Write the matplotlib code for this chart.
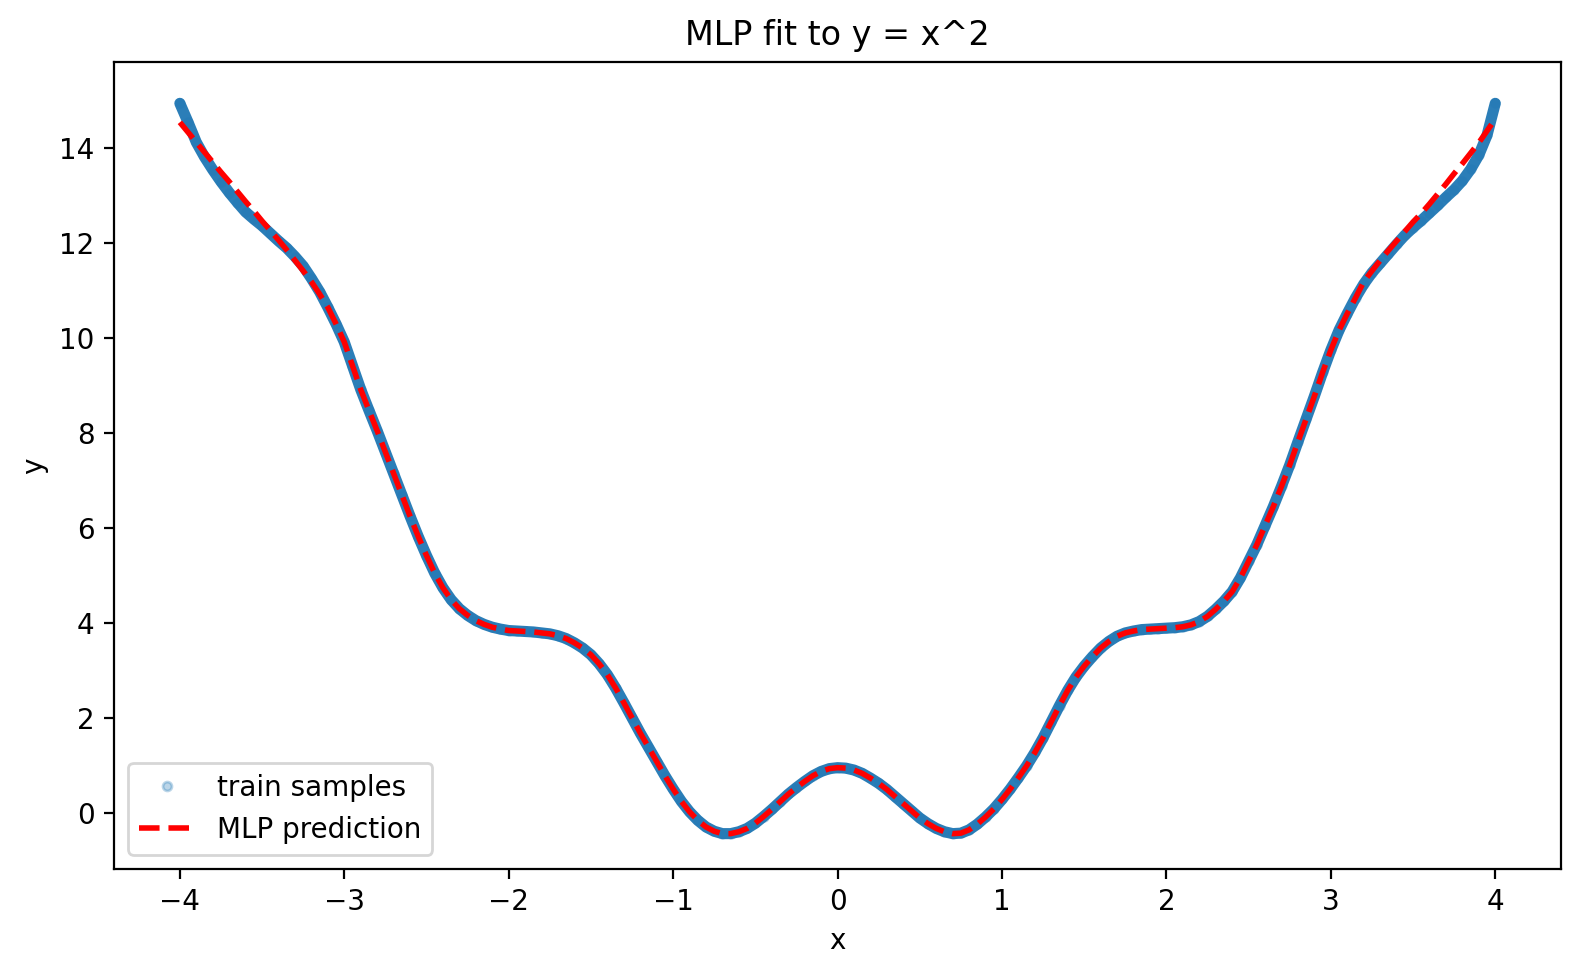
import matplotlib
matplotlib.use("Agg")
import matplotlib.pyplot as plt
from matplotlib.lines import Line2D

# x positions of the readings (step 0.05 from -4 to 4)
x_vals = [round(-4 + 0.05 * i, 2) for i in range(161)]

# train samples
y_samples = [
    14.95, 14.55, 14.13, 13.82, 13.55, 13.30, 13.07, 12.86, 12.66, 12.51,
    12.37, 12.21, 12.05, 11.90, 11.72, 11.52, 11.26, 10.98, 10.65, 10.30,
    9.92, 9.42, 8.92, 8.48, 8.05, 7.60, 7.15, 6.70, 6.25, 5.82,
    5.42, 5.05, 4.74, 4.49, 4.30, 4.16, 4.05, 3.97, 3.91, 3.87,
    3.84, 3.83, 3.82, 3.81, 3.79, 3.77, 3.73, 3.67, 3.58, 3.47,
    3.33, 3.14, 2.91, 2.63, 2.32, 2.00, 1.68, 1.38, 1.08, 0.78,
    0.50, 0.24, 0.02, -0.16, -0.30, -0.39, -0.44, -0.44, -0.40, -0.33,
    -0.22, -0.08, 0.07, 0.23, 0.39, 0.53, 0.66, 0.78, 0.87, 0.93,
    0.95, 0.94, 0.90, 0.83, 0.73, 0.62, 0.49, 0.34, 0.19, 0.04,
    -0.11, -0.23, -0.33, -0.40, -0.44, -0.43, -0.36, -0.24, -0.09, 0.08,
    0.28, 0.50, 0.74, 0.99, 1.27, 1.58, 1.92, 2.26, 2.58, 2.86,
    3.09, 3.29, 3.47, 3.61, 3.72, 3.79, 3.83, 3.86, 3.87, 3.88,
    3.89, 3.90, 3.92, 3.96, 4.03, 4.14, 4.29, 4.46, 4.66, 4.95,
    5.30, 5.65, 6.05, 6.45, 6.88, 7.33, 7.82, 8.30, 8.78, 9.28,
    9.75, 10.17, 10.52, 10.85, 11.14, 11.38, 11.58, 11.78, 11.98, 12.17,
    12.33, 12.48, 12.64, 12.80, 12.97, 13.13, 13.32, 13.56, 13.86, 14.28,
    14.95,
]

# MLP prediction
y_pred = [
    14.55, 14.34, 14.13, 13.92, 13.71, 13.50, 13.30, 13.09, 12.88, 12.68,
    12.47, 12.27, 12.07, 11.86, 11.64, 11.42, 11.19, 10.93, 10.65, 10.30,
    9.92, 9.42, 8.92, 8.48, 8.05, 7.60, 7.15, 6.70, 6.25, 5.82,
    5.42, 5.05, 4.74, 4.49, 4.30, 4.16, 4.05, 3.97, 3.91, 3.87,
    3.84, 3.83, 3.82, 3.81, 3.79, 3.77, 3.73, 3.67, 3.58, 3.47,
    3.33, 3.14, 2.91, 2.63, 2.32, 2.00, 1.68, 1.38, 1.08, 0.78,
    0.50, 0.24, 0.02, -0.16, -0.30, -0.39, -0.44, -0.44, -0.40, -0.33,
    -0.22, -0.08, 0.07, 0.23, 0.39, 0.53, 0.66, 0.78, 0.87, 0.93,
    0.95, 0.94, 0.90, 0.83, 0.73, 0.62, 0.49, 0.34, 0.19, 0.04,
    -0.11, -0.23, -0.33, -0.40, -0.44, -0.43, -0.36, -0.24, -0.09, 0.08,
    0.28, 0.50, 0.74, 0.99, 1.27, 1.58, 1.92, 2.26, 2.58, 2.86,
    3.09, 3.29, 3.47, 3.61, 3.72, 3.79, 3.83, 3.86, 3.87, 3.88,
    3.89, 3.90, 3.92, 3.96, 4.03, 4.14, 4.29, 4.46, 4.66, 4.95,
    5.30, 5.65, 6.05, 6.45, 6.88, 7.33, 7.82, 8.30, 8.78, 9.28,
    9.75, 10.17, 10.52, 10.85, 11.19, 11.42, 11.64, 11.85, 12.05, 12.25,
    12.45, 12.63, 12.83, 13.04, 13.25, 13.47, 13.68, 13.90, 14.12, 14.37,
    14.62,
]

title = "MLP fit to y = x^2"
x_label = "x"
y_label = "y"
sample_label = "train samples"
pred_label = "MLP prediction"

fig = plt.figure(figsize=(7.9, 4.885), dpi=200)
ax = fig.add_axes([0.0722, 0.1108, 0.9158, 0.8257])

# dense sample band (many overlapping translucent points in the original)
ax.plot(x_vals, y_samples, color="#1f77b4", lw=4.0, alpha=0.95,
        solid_capstyle="round", zorder=1)
ax.scatter(x_vals, y_samples, s=14, color="#1f77b4", alpha=0.3,
           linewidths=0, zorder=2)
ax.plot(x_vals, y_pred, color="red", lw=2, linestyle="--", zorder=3)

ax.set_xlim(-4.4, 4.4)
ax.set_ylim(-1.18, 15.82)
ax.set_title(title, fontsize=12)
ax.set_xlabel(x_label, fontsize=10)
ax.set_ylabel(y_label, fontsize=10)
ax.tick_params(labelsize=10)

handles = [
    Line2D([], [], linestyle="none", marker="o", markersize=3.2,
           color="#1f77b4", alpha=0.3),
    Line2D([], [], color="red", lw=2, linestyle="--"),
]
ax.legend(handles, [sample_label, pred_label], loc="lower left", fontsize=10)

fig.savefig("out.png", dpi=200)
